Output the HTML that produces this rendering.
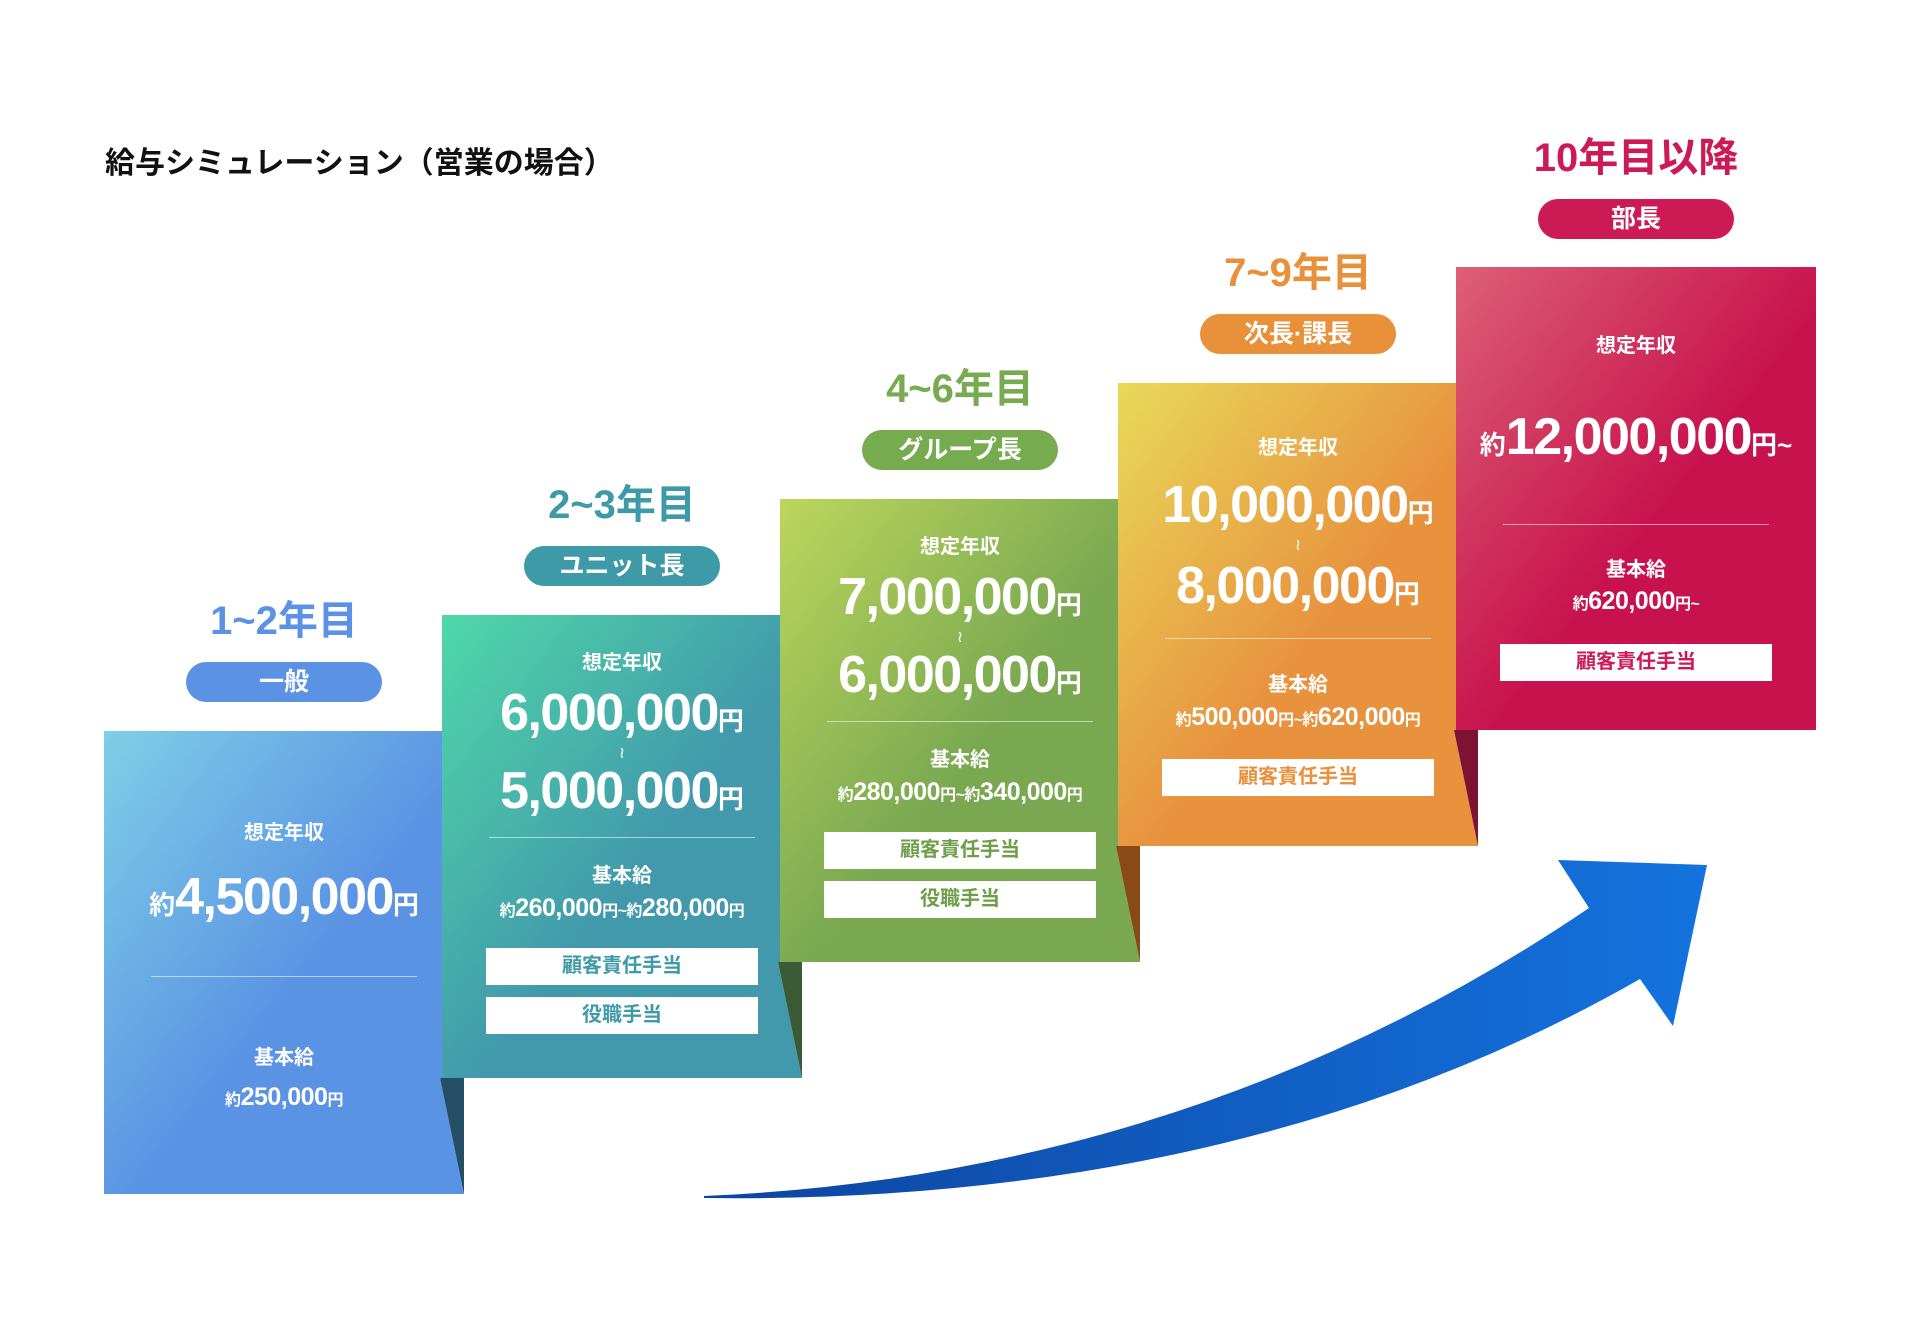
<!DOCTYPE html>
<html><head><meta charset="utf-8">
<style>
*{margin:0;padding:0;box-sizing:border-box}
body{width:1920px;height:1342px;background:#fff;position:relative;overflow:hidden;font-family:"Liberation Sans","Noto Sans CJK JP",sans-serif;font-weight:bold}
.t{position:absolute;text-align:center;white-space:nowrap;line-height:1}
.card{position:absolute;width:360px;height:463px}
.c{position:absolute;left:0;width:360px;text-align:center;white-space:nowrap;color:#fff;line-height:1}
.lbl{font-size:20px}
.big{font-size:52px;letter-spacing:-1.5px}
.big small{font-size:26px;letter-spacing:0}
.big em{font-style:normal;font-size:26px;letter-spacing:0}
.sub{font-size:25px;letter-spacing:-0.5px}
.sub small{font-size:16px}
.tl{font-size:16px;font-family:"DejaVu Sans",sans-serif;font-weight:normal}
.line{position:absolute;left:47px;width:266px;height:1px;background:rgba(255,255,255,.55)}
.box{position:absolute;left:44px;width:272px;height:37px;background:#fff;font-size:20px;line-height:37px;text-align:center}
.yr{position:absolute;width:360px;text-align:center;font-size:40px;line-height:1}
.pill{position:absolute;width:196px;height:40px;border-radius:20px;color:#fff;font-size:25px;line-height:40px;text-align:center}
</style></head><body>
<svg width="1920" height="1342" style="position:absolute;left:0;top:0">
<defs>
<linearGradient id="g1" x1="0" y1="0" x2="1" y2="1"><stop offset="0" stop-color="#7ecfe6"/><stop offset=".55" stop-color="#5a92e4"/><stop offset="1" stop-color="#5a92e4"/></linearGradient>
<linearGradient id="g2" x1="0" y1="0" x2="1" y2="1"><stop offset="0" stop-color="#4fd8a8"/><stop offset=".55" stop-color="#4299ab"/><stop offset="1" stop-color="#4299ab"/></linearGradient>
<linearGradient id="g3" x1="0" y1="0" x2="1" y2="1"><stop offset="0" stop-color="#bcd65c"/><stop offset=".55" stop-color="#79a851"/><stop offset="1" stop-color="#79a851"/></linearGradient>
<linearGradient id="g4" x1="0" y1="0" x2="1" y2="1"><stop offset="0" stop-color="#e8d95a"/><stop offset=".55" stop-color="#e8923e"/><stop offset="1" stop-color="#e8923e"/></linearGradient>
<linearGradient id="g5" x1="0" y1="0" x2="1" y2="1"><stop offset="0" stop-color="#dc6075"/><stop offset=".55" stop-color="#c8124e"/><stop offset="1" stop-color="#c8124e"/></linearGradient>
<linearGradient id="ga" x1="0" y1="0" x2="1" y2="0"><stop offset="0" stop-color="#0d44a0"/><stop offset="1" stop-color="#1473de"/></linearGradient>
</defs>
<polygon points="104,731 445,731 445,1078 440,1078 464,1194 104,1194" fill="url(#g1)"/>
<polygon points="440,1078 464,1078 464,1194" fill="#254f66"/>
<polygon points="442,615 783,615 783,962 778,962 802,1078 442,1078" fill="url(#g2)"/>
<polygon points="778,962 802,962 802,1078" fill="#3b5a36"/>
<polygon points="780,499 1121,499 1121,846 1116,846 1140,962 780,962" fill="url(#g3)"/>
<polygon points="1116,846 1140,846 1140,962" fill="#8a4a18"/>
<polygon points="1118,383 1459,383 1459,730 1454,730 1478,846 1118,846" fill="url(#g4)"/>
<polygon points="1454,730 1478,730 1478,846" fill="#7e1232"/>
<rect x="1456" y="267" width="360" height="463" fill="url(#g5)"/>
<path d="M704,1196 Q1195,1175 1589,908 L1558,860 L1707,865 L1673,1026 L1640,979 Q1245,1205 704,1198 Z" fill="url(#ga)"/>
</svg>

<div class="t" style="left:105px;top:149px;font-size:30px;color:#111">給与シミュレーション（営業の場合）</div>

<div class="yr" style="left:104px;top:601px;color:#5b92e4">1~2年目</div>
<div class="pill" style="left:186px;top:662px;background:#5b92e4">一般</div>
<div class="card" style="left:104px;top:731px">
<div class="c lbl" style="top:92px">想定年収</div>
<div class="c big" style="top:140px"><em>約</em>4,500,000<small>円</small></div>
<div class="line" style="top:245px"></div>
<div class="c lbl" style="top:317px">基本給</div>
<div class="c sub" style="top:354px"><small>約</small>250,000<small>円</small></div>
</div>

<div class="yr" style="left:442px;top:485px;color:#3f9aa8">2~3年目</div>
<div class="pill" style="left:524px;top:546px;background:#3f9aa8">ユニット長</div>
<div class="card" style="left:442px;top:615px">
<div class="c lbl" style="top:38px">想定年収</div>
<div class="c big" style="top:72px">6,000,000<small>円</small></div>
<div class="c tl" style="top:130px">≀</div>
<div class="c big" style="top:150px">5,000,000<small>円</small></div>
<div class="line" style="top:222px"></div>
<div class="c lbl" style="top:251px">基本給</div>
<div class="c sub" style="top:281px"><small>約</small>260,000<small>円~約</small>280,000<small>円</small></div>
<div class="box" style="top:333px;color:#3f9aa8">顧客責任手当</div>
<div class="box" style="top:382px;color:#3f9aa8">役職手当</div>
</div>

<div class="yr" style="left:780px;top:369px;color:#76ab4f">4~6年目</div>
<div class="pill" style="left:862px;top:430px;background:#76ab4f">グループ長</div>
<div class="card" style="left:780px;top:499px">
<div class="c lbl" style="top:38px">想定年収</div>
<div class="c big" style="top:72px">7,000,000<small>円</small></div>
<div class="c tl" style="top:130px">≀</div>
<div class="c big" style="top:150px">6,000,000<small>円</small></div>
<div class="line" style="top:222px"></div>
<div class="c lbl" style="top:251px">基本給</div>
<div class="c sub" style="top:281px"><small>約</small>280,000<small>円~約</small>340,000<small>円</small></div>
<div class="box" style="top:333px;color:#6e9e48">顧客責任手当</div>
<div class="box" style="top:382px;color:#6e9e48">役職手当</div>
</div>

<div class="yr" style="left:1118px;top:253px;color:#e8903a">7~9年目</div>
<div class="pill" style="left:1200px;top:314px;background:#e8903a">次長·課長</div>
<div class="card" style="left:1118px;top:383px">
<div class="c lbl" style="top:55px">想定年収</div>
<div class="c big" style="top:96px">10,000,000<small>円</small></div>
<div class="c tl" style="top:154px">≀</div>
<div class="c big" style="top:177px">8,000,000<small>円</small></div>
<div class="line" style="top:255px"></div>
<div class="c lbl" style="top:292px">基本給</div>
<div class="c sub" style="top:322px"><small>約</small>500,000<small>円~約</small>620,000<small>円</small></div>
<div class="box" style="top:376px;color:#e8903a">顧客責任手当</div>
</div>

<div class="yr" style="left:1456px;top:138px;color:#cc1a55">10年目以降</div>
<div class="pill" style="left:1538px;top:199px;background:#cc1a55">部長</div>
<div class="card" style="left:1456px;top:267px">
<div class="c lbl" style="top:69px">想定年収</div>
<div class="c big" style="top:144px"><em>約</em>12,000,000<small>円~</small></div>
<div class="line" style="top:257px"></div>
<div class="c lbl" style="top:293px">基本給</div>
<div class="c sub" style="top:322px"><small>約</small>620,000<small>円~</small></div>
<div class="box" style="top:377px;color:#cc1a55">顧客責任手当</div>
</div>
</body></html>
